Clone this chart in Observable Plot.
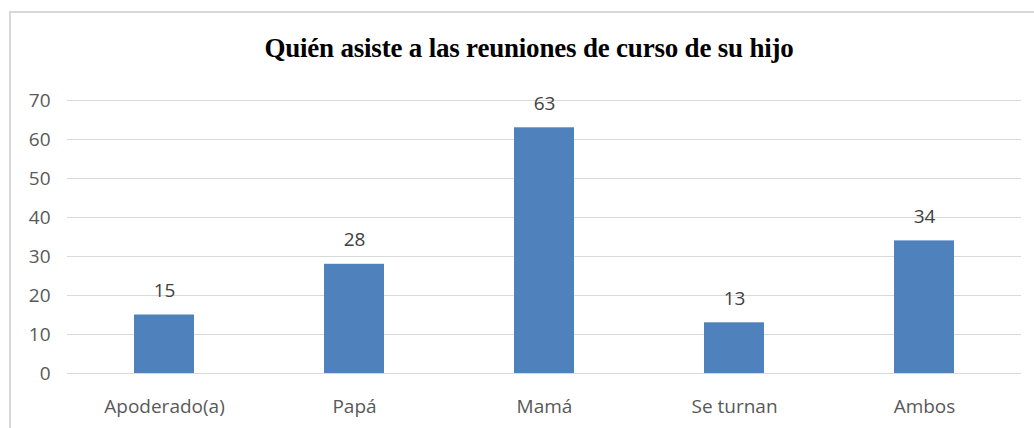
<!DOCTYPE html>
<html>
<head>
<meta charset="utf-8">
<script src="https://cdn.jsdelivr.net/npm/d3@7"></script>
<script src="https://cdn.jsdelivr.net/npm/@observablehq/plot@0.6"></script>
<style>
  html, body { margin: 0; padding: 0; background: #fff; overflow: hidden; }
  #frame { position: absolute; left: 9px; top: 11px; width: 1100px; height: 500px; border: 2px solid #d9d9d9; box-sizing: border-box; }
  #wrap { position: absolute; left: 0; top: 0; width: 1034px; height: 428px; }
  #title { position: absolute; left: 0; top: 0; width: 1034px; height: 80px; box-sizing: border-box; padding-left: 24px; text-align: center; font-family: "Liberation Serif", "Times New Roman", serif; font-weight: bold; font-size: 27px; line-height: 27px; padding-top: 35px; color: #000; letter-spacing: -0.2px; }
  #chart { position: absolute; left: 0; top: 80px; }
</style>
</head>
<body>
<div id="frame"></div>
<div id="wrap">
  <div id="title">Quién asiste a las reuniones de curso de su hijo</div>
  <div id="chart"></div>
</div>
<script>
const categories = ["Apoderado(a)", "Papá", "Mamá", "Se turnan", "Ambos"];
const values = [15, 28, 63, 13, 34];
const yTicks = [0, 10, 20, 30, 40, 50, 60, 70];

const data = categories.map((c, i) => ({category: c, value: values[i]}));

const chart = Plot.plot({
  width: 1034,
  height: 348,
  marginTop: 20,
  marginBottom: 55,
  marginLeft: 67,
  marginRight: 13,
  style: {fontFamily: "'Open Sans', 'Liberation Sans', sans-serif", fontSize: "19px", color: "#595959", background: "transparent"},
  x: {domain: categories, label: null, paddingInner: 0.686, paddingOuter: 0.343, tickSize: 0, tickPadding: 26},
  y: {domain: [0, 70], ticks: yTicks, label: null, tickSize: 0, tickPadding: 17, grid: false},
  marks: [
    Plot.gridY(yTicks, {stroke: "#d9d9d9", strokeOpacity: 1, strokeWidth: 1}),
    Plot.barY(data, {x: "category", y: "value", fill: "#4F81BD"}),
    Plot.text(data, {x: "category", y: "value", text: d => String(d.value), dy: -24, fill: "#404040", fontSize: 19})
  ]
});
document.getElementById("chart").appendChild(chart);
</script>
</body>
</html>
